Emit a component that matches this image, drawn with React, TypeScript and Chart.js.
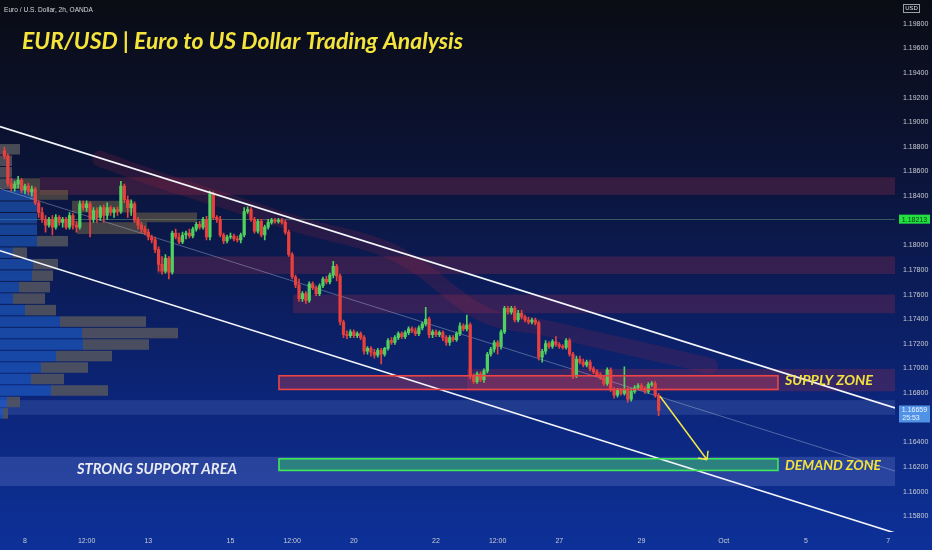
import React, { useEffect, useRef } from 'react';
import { Chart, registerables } from 'chart.js';

Chart.register(...registerables);

// ---------------- data (prices as 1 + v/100000) ----------------
const FIRST_OPEN = 18767;
const CLOSE = [
  18727, 18505, 18465, 18497, 18529, 18449, 18481, 18434, 18457, 18346,
  18267, 18211, 18164, 18211, 18148, 18227, 18187, 18211, 18148, 18243,
  18164, 18148, 18338, 18307, 18338, 18211, 18283, 18227, 18307, 18243,
  18307, 18267, 18291, 18275, 18481, 18370, 18307, 18338, 18211, 18164,
  18132, 18108, 18068, 18045, 17965, 17846, 17791, 17894, 17783, 18100,
  18068, 18029, 18084, 18100, 18076, 18132, 18172, 18148, 18211, 18068,
  18418, 18227, 18211, 18084, 18037, 18068, 18076, 18053, 18045, 18084,
  18275, 18291, 18211, 18116, 18195, 18084, 18148, 18187, 18203, 18195,
  18203, 18187, 18108, 17926, 17743, 17679, 17568, 17608, 17552, 17687,
  17656, 17608, 17672, 17727, 17703, 17759, 17830, 17751, 17378, 17275,
  17267, 17298, 17267, 17283, 17251, 17140, 17164, 17132, 17108, 17148,
  17116, 17164, 17227, 17211, 17251, 17283, 17259, 17291, 17322, 17306,
  17283, 17330, 17362, 17402, 17275, 17298, 17275, 17291, 17251, 17211,
  17251, 17235, 17283, 17346, 17322, 17354, 16941, 16894, 16957, 16910,
  16981, 17116, 17156, 17211, 17179, 17298, 17489, 17457, 17489, 17394,
  17449, 17418, 17394, 17378, 17394, 17370, 17092, 17140, 17203, 17179,
  17219, 17195, 17179, 17171, 17227, 17116, 16941, 17076, 17052, 17029,
  17052, 16997, 16973, 16949, 16925, 16878, 16989, 16830, 16783, 16822,
  16798, 16830, 16751, 16814, 16846, 16862, 16838, 16814, 16870, 16878,
  16783, 16659,
];
const HIGH = [
  18799, 18743, 18545, 18521, 18561, 18545, 18497, 18505, 18481, 18473,
  18362, 18307, 18243, 18227, 18243, 18251, 18243, 18227, 18227, 18267,
  18259, 18195, 18362, 18362, 18362, 18354, 18307, 18307, 18322, 18330,
  18346, 18322, 18307, 18314, 18521, 18497, 18402, 18370, 18354, 18227,
  18187, 18156, 18132, 18084, 18068, 17989, 17910, 17926, 17910, 18116,
  18132, 18100, 18108, 18116, 18132, 18148, 18187, 18195, 18227, 18235,
  18441, 18434, 18243, 18235, 18100, 18084, 18100, 18092, 18076, 18100,
  18307, 18314, 18307, 18227, 18211, 18211, 18164, 18211, 18219, 18219,
  18219, 18219, 18203, 18124, 17941, 17759, 17727, 17624, 17624, 17703,
  17703, 17672, 17687, 17743, 17751, 17775, 17870, 17846, 17767, 17394,
  17306, 17314, 17314, 17298, 17298, 17267, 17179, 17179, 17156, 17164,
  17164, 17171, 17243, 17251, 17267, 17298, 17298, 17306, 17338, 17338,
  17330, 17346, 17378, 17497, 17418, 17314, 17314, 17306, 17306, 17267,
  17267, 17267, 17298, 17370, 17362, 17433, 17370, 16957, 16973, 16973,
  16997, 17132, 17171, 17227, 17227, 17314, 17505, 17505, 17505, 17505,
  17473, 17473, 17433, 17418, 17410, 17410, 17386, 17156, 17227, 17219,
  17235, 17259, 17211, 17195, 17243, 17243, 17132, 17100, 17100, 17076,
  17068, 17068, 17013, 16989, 16965, 16941, 17005, 17005, 16846, 16838,
  16838, 17013, 16846, 16838, 16862, 16878, 16878, 16854, 16886, 16894,
  16894, 16798,
];
const LOW = [
  18703, 18481, 18441, 18441, 18465, 18426, 18418, 18410, 18402, 18330,
  18227, 18187, 18108, 18148, 18084, 18132, 18164, 18148, 18132, 18132,
  18132, 18108, 18132, 18283, 18275, 18068, 18187, 18187, 18203, 18187,
  18211, 18243, 18227, 18243, 18259, 18346, 18227, 18243, 18187, 18132,
  18100, 18084, 18045, 18021, 17941, 17791, 17767, 17775, 17727, 17767,
  18053, 18013, 18013, 18053, 18060, 18060, 18116, 18132, 18132, 18045,
  18045, 18211, 18187, 18068, 18013, 18021, 18053, 18037, 18029, 18021,
  18068, 18259, 18195, 18100, 18100, 18068, 18045, 18132, 18172, 18180,
  18180, 18172, 18092, 17910, 17727, 17656, 17545, 17545, 17529, 17537,
  17640, 17592, 17592, 17656, 17687, 17687, 17735, 17711, 17354, 17251,
  17243, 17251, 17251, 17251, 17235, 17116, 17116, 17100, 17084, 17092,
  17037, 17100, 17148, 17195, 17195, 17235, 17243, 17243, 17275, 17291,
  17267, 17267, 17314, 17346, 17251, 17251, 17259, 17259, 17227, 17187,
  17187, 17219, 17219, 17267, 17306, 17306, 16917, 16878, 16878, 16894,
  16886, 16965, 17100, 17132, 17116, 17156, 17283, 17441, 17441, 17378,
  17378, 17402, 17378, 17362, 17362, 17354, 17068, 17052, 17116, 17164,
  17164, 17179, 17164, 17156, 17156, 17100, 16917, 16925, 17037, 17013,
  17013, 16981, 16957, 16933, 16910, 16862, 16862, 16814, 16759, 16767,
  16783, 16783, 16727, 16735, 16798, 16830, 16822, 16798, 16798, 16854,
  16767, 16616,
];
const FIRST_BAR_DAY = -0.5; // 2h bars, day units on the time axis
const BARS_PER_DAY = 12;

const TIME_TICK_DAYS = [0, 1.5, 3, 5, 6.5, 8, 10, 11.5, 13, 15, 17, 19, 21];
const TIME_TICK_LABELS = ['8', '12:00', '13', '15', '12:00', '20', '22', '12:00', '27', '29', 'Oct', '5', '7'];
const PRICE_TICKS = [
  1.158, 1.16, 1.162, 1.164, 1.166, 1.168, 1.17, 1.172, 1.174, 1.176, 1.178,
  1.18, 1.182, 1.184, 1.186, 1.188, 1.19, 1.192, 1.194, 1.196, 1.198,
];
const VIEW_DAYS = [-0.608, 21.168];
const VIEW_PRICES = [1.15672, 1.19894];

// channel lines (day, price)
const CHANNEL_DAYS = [-0.608, 21.168];
const UPPER_CHANNEL = [1.18965, 1.1668];
const MID_CHANNEL = [1.18461, 1.16167];
const LOWER_CHANNEL = [1.17957, 1.15664];

// red supply "cloud"
const CLOUD_DAYS = [1.825, 3.285, 5.231, 6.691, 8.638, 9.611, 10.462, 11.314, 12.53, 13.99, 15.45, 16.667];
const CLOUD_PRICES = [1.18703, 1.18529, 1.18323, 1.18164, 1.17989, 1.17815, 1.17592, 1.17418, 1.17338, 1.17227, 1.17116, 1.17021];

// resistance bands (extend to the right edge)
const RES_START_DAYS = [0.365, 3.212, 6.521, 10.754];
const RES_TOP = [1.18553, 1.1791, 1.176, 1.16997];
const RES_BOTTOM = [1.1841, 1.17767, 1.17449, 1.16815];

// consolidation boxes
const BOX_START_DAYS = [-0.122, 0.122, 1.144, 2.628, 1.265];
const BOX_END_DAYS = [0.365, 1.046, 2.628, 4.185, 2.968];
const BOX_TOP = [1.18545, 1.1845, 1.18362, 1.18267, 1.18188];
const BOX_BOTTOM = [1.1845, 1.1837, 1.18267, 1.18188, 1.18092];

// full-width light bands (current price area, strong support area)
const BAND_TOP = [1.16743, 1.16283];
const BAND_BOTTOM = [1.16624, 1.16045];

// supply / demand zones
const ZONE_DAYS = [6.18, 18.32];
const SUPPLY_PRICES = [1.16941, 1.1683];
const DEMAND_PRICES = [1.16267, 1.16172];

// visible range volume profile
const VP_HIGH = 1.18823;
const VP_LOW = 1.16584;
const VP_UP = [0, 0, 0, 0, 74, 74, 74, 74, 74, 26, 66, 64, 38, 26, 50, 120, 164, 166, 112, 82, 62, 102, 14, 6];
const VP_DOWN = [40, 24, 24, 40, 0, 0, 0, 0, 62, 28, 50, 42, 62, 64, 62, 172, 192, 132, 112, 94, 66, 114, 26, 10];
const VOLUME_AXIS_MAX = 1790;

const PRICE_LINE = 1.18213;
const LAST_PRICE = 1.16659;
const COUNTDOWN = '25:53';

const ARROW_DAYS = [15.45, 16.594];
const ARROW_PRICES = [1.16775, 1.16259];

const TITLE = 'EUR/USD | Euro to US Dollar Trading Analysis';
const HEADER = 'Euro / U.S. Dollar, 2h, OANDA';
const SUPPLY_LABEL = { text: 'SUPPLY ZONE', day: 18.49, price: 1.16862 };
const DEMAND_LABEL = { text: 'DEMAND ZONE', day: 18.49, price: 1.16172 };
const SUPPORT_LABEL = { text: 'STRONG SUPPORT AREA', day: 1.265, price: 1.1614 };

// ---------------- styles ----------------
const UP_COLOR = '#4fd05f';
const DOWN_COLOR = '#e8403c';
const AXIS_FONT = "'Liberation Sans', Arial, sans-serif";
const TEXT_FONT = "Lato, 'Open Sans', sans-serif";

const toPrice = (v: number) => 1 + v / 100000;

function fitText(ctx: CanvasRenderingContext2D, text: string, x: number, y: number, w: number, font: string, color: string) {
  ctx.save();
  ctx.font = font;
  const m = ctx.measureText(text).width;
  ctx.translate(x, y);
  ctx.scale(w / m, 1);
  ctx.fillStyle = color;
  ctx.textBaseline = 'alphabetic';
  ctx.textAlign = 'left';
  ctx.fillText(text, 0, 0);
  ctx.restore();
}

const bgPlugin = {
  id: 'bgGradient',
  beforeDraw(chart: any) {
    const { ctx, width, height } = chart;
    const g = ctx.createLinearGradient(0, 0, 0, height);
    g.addColorStop(0, '#0a0c14');
    g.addColorStop(0.25, '#0b1230');
    g.addColorStop(0.5, '#0b1b55');
    g.addColorStop(0.75, '#0c267c');
    g.addColorStop(1, '#0d3199');
    ctx.save();
    ctx.fillStyle = g;
    ctx.fillRect(0, 0, width, height);
    ctx.restore();
  },
};

const underlayPlugin = {
  id: 'underlay',
  beforeDatasetsDraw(chart: any) {
    const { ctx, chartArea: a, scales } = chart;
    const X = scales.x, Y = scales.y, V = scales.xv;
    const fillR = (d0: number, d1: number, p0: number, p1: number, color: string) => {
      const x0 = X.getPixelForValue(d0), x1 = X.getPixelForValue(d1);
      const y0 = Y.getPixelForValue(p0), y1 = Y.getPixelForValue(p1);
      ctx.fillStyle = color;
      ctx.fillRect(Math.min(x0, x1), Math.min(y0, y1), Math.abs(x1 - x0), Math.abs(y1 - y0));
    };
    ctx.save();
    ctx.beginPath();
    ctx.rect(a.left, a.top, a.right - a.left, a.bottom - a.top);
    ctx.clip();

    // light bands
    BAND_TOP.forEach((t, i) => fillR(VIEW_DAYS[0], VIEW_DAYS[1], t, BAND_BOTTOM[i], i === 0 ? 'rgba(130,155,230,0.18)' : 'rgba(140,160,230,0.22)'));
    // resistance bands
    RES_START_DAYS.forEach((d, i) => fillR(d, VIEW_DAYS[1], RES_TOP[i], RES_BOTTOM[i], 'rgba(165,45,75,0.28)'));
    // price line
    const ly = Math.round(Y.getPixelForValue(PRICE_LINE)) + 0.5;
    ctx.strokeStyle = 'rgba(120,200,140,0.4)';
    ctx.lineWidth = 1;
    ctx.beginPath();
    ctx.moveTo(a.left, ly);
    ctx.lineTo(a.right, ly);
    ctx.stroke();
    // consolidation boxes
    BOX_START_DAYS.forEach((d, i) => fillR(d, BOX_END_DAYS[i], BOX_TOP[i], BOX_BOTTOM[i], 'rgba(135,118,72,0.45)'));
    // volume profile
    const n = VP_UP.length;
    const step = (VP_HIGH - VP_LOW) / n;
    for (let k = 0; k < n; k++) {
      const top = Y.getPixelForValue(VP_HIGH - k * step);
      const bot = Y.getPixelForValue(VP_HIGH - (k + 1) * step);
      const h = bot - top - 1;
      const x0 = V.getPixelForValue(0);
      const x1 = V.getPixelForValue(VP_UP[k]);
      const x2 = V.getPixelForValue(VP_UP[k] + VP_DOWN[k]);
      if (x1 > x0) {
        ctx.fillStyle = 'rgba(35,110,225,0.5)';
        ctx.fillRect(x0, top, x1 - x0, h);
      }
      if (x2 > x1) {
        ctx.fillStyle = 'rgba(85,86,94,0.85)';
        ctx.fillRect(x1, top, x2 - x1, h);
      }
    }
    // zone fills
    fillR(ZONE_DAYS[0], ZONE_DAYS[1], SUPPLY_PRICES[0], SUPPLY_PRICES[1], 'rgba(205,60,85,0.36)');
    fillR(ZONE_DAYS[0], ZONE_DAYS[1], DEMAND_PRICES[0], DEMAND_PRICES[1], 'rgba(50,190,100,0.5)');
    ctx.restore();
  },
};

const overlayPlugin = {
  id: 'overlay',
  afterDatasetsDraw(chart: any) {
    const { ctx, scales } = chart;
    const X = scales.x, Y = scales.y;
    const strokeR = (p0: number, p1: number, color: string) => {
      const x0 = X.getPixelForValue(ZONE_DAYS[0]), x1 = X.getPixelForValue(ZONE_DAYS[1]);
      const y0 = Y.getPixelForValue(p0), y1 = Y.getPixelForValue(p1);
      ctx.strokeStyle = color;
      ctx.lineWidth = 1.6;
      ctx.strokeRect(x0, y0, x1 - x0, y1 - y0);
    };
    ctx.save();
    strokeR(SUPPLY_PRICES[0], SUPPLY_PRICES[1], '#ec4545');
    strokeR(DEMAND_PRICES[0], DEMAND_PRICES[1], '#3fe85a');

    // arrow
    const ax0 = X.getPixelForValue(ARROW_DAYS[0]), ay0 = Y.getPixelForValue(ARROW_PRICES[0]);
    const ax1 = X.getPixelForValue(ARROW_DAYS[1]), ay1 = Y.getPixelForValue(ARROW_PRICES[1]);
    ctx.strokeStyle = '#f2e64a';
    ctx.lineWidth = 1.5;
    ctx.beginPath();
    ctx.moveTo(ax0, ay0);
    ctx.lineTo(ax1, ay1);
    const ang = Math.atan2(ay0 - ay1, ax0 - ax1);
    for (const s of [-0.75, 0.75]) {
      ctx.moveTo(ax1, ay1);
      ctx.lineTo(ax1 + 9 * Math.cos(ang + s), ay1 + 9 * Math.sin(ang + s));
    }
    ctx.stroke();
    ctx.restore();
  },
  afterDraw(chart: any) {
    const { ctx, chartArea: a, scales } = chart;
    const X = scales.x, Y = scales.y;
    ctx.save();
    // header & title
    fitText(ctx, HEADER, 4, 12, 89, `7px 'Liberation Sans', Arial, sans-serif`, '#d6d8de');
    fitText(ctx, TITLE, 22, 49, 441, `italic bold 22px ${TEXT_FONT}`, '#f4e43c');
    // zone labels
    fitText(ctx, SUPPLY_LABEL.text, X.getPixelForValue(SUPPLY_LABEL.day), Y.getPixelForValue(SUPPLY_LABEL.price), 88, `italic bold 14px ${TEXT_FONT}`, '#f2e23e');
    fitText(ctx, DEMAND_LABEL.text, X.getPixelForValue(DEMAND_LABEL.day), Y.getPixelForValue(DEMAND_LABEL.price), 96, `italic bold 14px ${TEXT_FONT}`, '#f2e23e');
    fitText(ctx, SUPPORT_LABEL.text, X.getPixelForValue(SUPPORT_LABEL.day), Y.getPixelForValue(SUPPORT_LABEL.price), 160, `italic bold 15px ${TEXT_FONT}`, '#e8eaf2');

    // price line label
    const bx = a.right + 4;
    const gy = Y.getPixelForValue(PRICE_LINE);
    ctx.fillStyle = '#22e040';
    ctx.fillRect(bx, gy - 4.5, 31, 9);
    ctx.font = `7px ${AXIS_FONT}`;
    ctx.textBaseline = 'middle';
    ctx.textAlign = 'center';
    ctx.fillStyle = '#0a3a12';
    ctx.fillText(PRICE_LINE.toFixed(5), bx + 15.5, gy + 0.5);

    // last price label
    const ly = Y.getPixelForValue(LAST_PRICE);
    ctx.fillStyle = '#4f92e6';
    ctx.fillRect(bx, ly - 5, 31, 17);
    ctx.fillStyle = '#eef4ff';
    ctx.fillText(LAST_PRICE.toFixed(5), bx + 15.5, ly);
    ctx.fillText(COUNTDOWN, bx + 12, ly + 8);

    // currency box
    ctx.fillStyle = '#0b0d16';
    ctx.fillRect(a.right + 8, 4, 17, 9);
    ctx.strokeStyle = '#9aa0aa';
    ctx.lineWidth = 1;
    ctx.strokeRect(a.right + 8.5, 4.5, 16, 8);
    ctx.fillStyle = '#e0e2e8';
    ctx.font = `6px 'Liberation Sans', Arial, sans-serif`;
    ctx.fillText('USD', a.right + 16.5, 8.8);
    ctx.restore();
  },
};

export default function App() {
  const ref = useRef<HTMLCanvasElement>(null);
  useEffect(() => {
    const canvas = ref.current;
    if (!canvas) return;

    const bars = CLOSE.map((c, i) => {
      const o = i === 0 ? FIRST_OPEN : CLOSE[i - 1];
      return {
        x: FIRST_BAR_DAY + i / BARS_PER_DAY,
        o: toPrice(o),
        c: toPrice(c),
        h: toPrice(Math.max(HIGH[i], o, c)),
        l: toPrice(Math.min(LOW[i], o, c)),
      };
    });
    const colors = bars.map((b) => (b.c >= b.o ? UP_COLOR : DOWN_COLOR));
    const pts = (days: number[], prices: number[]) => days.map((d, i) => ({ x: d, y: prices[i] }));
    const lineDs = (data: any[], color: string, width: number, order: number, extra: any = {}) => ({
      type: 'line' as const,
      data,
      borderColor: color,
      borderWidth: width,
      pointRadius: 0,
      fill: false,
      tension: 0,
      order,
      ...extra,
    });

    const chart = new Chart(canvas, {
      type: 'bar',
      data: {
        datasets: [
          lineDs(pts(CLOUD_DAYS, CLOUD_PRICES), 'rgba(170,40,65,0.18)', 16, 10, {
            tension: 0.4,
            borderCapStyle: 'round',
            borderJoinStyle: 'round',
          }),
          lineDs(pts(CHANNEL_DAYS, MID_CHANNEL), 'rgba(190,200,225,0.4)', 1, 9),
          {
            type: 'bar' as const,
            data: bars.map((b) => ({ x: b.x, y: [b.l, b.h] })) as any,
            backgroundColor: colors,
            barThickness: 1,
            grouped: false,
            order: 6,
          },
          {
            type: 'bar' as const,
            data: bars.map((b) => ({ x: b.x, y: [b.o, b.c] })) as any,
            backgroundColor: colors,
            barThickness: 2.6,
            minBarLength: 1,
            grouped: false,
            order: 5,
          },
          lineDs(pts(CHANNEL_DAYS, UPPER_CHANNEL), '#f4f6fb', 1.6, 2),
          lineDs(pts(CHANNEL_DAYS, LOWER_CHANNEL), '#f4f6fb', 1.6, 2),
        ] as any,
      },
      options: {
        animation: false,
        responsive: false,
        devicePixelRatio: 1,
        events: [],
        layout: { padding: 0 },
        plugins: { legend: { display: false }, tooltip: { enabled: false }, title: { display: false } },
        scales: {
          x: {
            type: 'linear',
            position: 'bottom',
            min: VIEW_DAYS[0],
            max: VIEW_DAYS[1],
            offset: false,
            grid: { display: false, offset: false, drawTicks: false, tickLength: 0 },
            border: { display: false },
            afterBuildTicks: (s: any) => {
              s.ticks = TIME_TICK_DAYS.map((v) => ({ value: v }));
            },
            afterFit: (s: any) => {
              s.height = 18;
            },
            ticks: {
              autoSkip: false,
              maxRotation: 0,
              padding: 5,
              color: '#c9ccd4',
              font: { family: AXIS_FONT, size: 7 },
              callback: (_v: any, i: number) => TIME_TICK_LABELS[i],
            },
          },
          xv: {
            type: 'linear',
            display: false,
            min: 0,
            max: VOLUME_AXIS_MAX,
            offset: false,
          },
          y: {
            type: 'linear',
            position: 'right',
            min: VIEW_PRICES[0],
            max: VIEW_PRICES[1],
            beginAtZero: false,
            grid: { display: false, drawTicks: false, tickLength: 0 },
            border: { display: false },
            afterBuildTicks: (s: any) => {
              s.ticks = PRICE_TICKS.map((v) => ({ value: v }));
            },
            afterFit: (s: any) => {
              s.width = 37;
            },
            ticks: {
              padding: 8,
              color: '#c9ccd4',
              font: { family: AXIS_FONT, size: 7 },
              callback: (v: any) => Number(v).toFixed(5),
            },
          },
        } as any,
      },
      plugins: [bgPlugin, underlayPlugin, overlayPlugin],
    });
    return () => chart.destroy();
  }, []);

  return (
    <div style={{ position: 'fixed', left: 0, top: 0, width: 932, height: 550 }}>
      <canvas ref={ref} width={932} height={550} style={{ display: 'block', width: 932, height: 550 }} />
    </div>
  );
}
